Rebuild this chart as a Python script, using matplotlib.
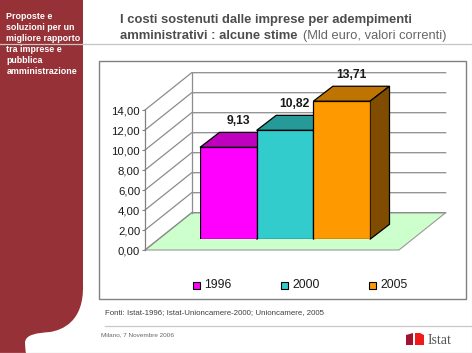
import matplotlib
matplotlib.use("Agg")
import matplotlib.pyplot as plt
from matplotlib.patches import Polygon, Rectangle, PathPatch
from matplotlib.path import Path

plt.rcParams['font.family'] = ['Liberation Sans', 'DejaVu Sans']

years = ['1996', '2000', '2005']
values = [9.13, 10.82, 13.71]
value_labels = ['9,13', '10,82', '13,71']
front_colors = ['#FF00FF', '#33CCCC', '#FF9900']
top_colors = ['#BF00BF', '#269999', '#BF7300']
side_colors = ['#800080', '#1A6666', '#804D00']
y_ticks = [0, 2, 4, 6, 8, 10, 12, 14]
y_tick_labels = ['0,00', '2,00', '4,00', '6,00', '8,00', '10,00', '12,00', '14,00']
sidebar_lines = ['Proposte e', 'soluzioni per un', 'migliore rapporto', 'tra imprese e',
                 'pubblica', 'amministrazione']

W, H = 472, 353
fig = plt.figure(figsize=(W / 100, H / 100), dpi=100, facecolor='white')

def axes_px(x0, y0, x1, y1):
    """axes from pixel box, y measured from the top of the image"""
    return fig.add_axes([x0 / W, 1 - y1 / H, (x1 - x0) / W, (y1 - y0) / H])

# page layer in pixel coordinates
bg = axes_px(0, 0, W, H)
bg.set_xlim(0, W)
bg.set_ylim(H, 0)
bg.axis('off')

verts = [(0, 0), (83, 0), (83, 285),
         (84, 322), (62, 330), (50, 332),
         (38, 333), (25, 334), (25, 343),
         (25, 348), (26, 353), (26, 353),
         (0, 353), (0, 0)]
codes = [Path.MOVETO, Path.LINETO, Path.LINETO,
         Path.CURVE4, Path.CURVE4, Path.CURVE4,
         Path.CURVE4, Path.CURVE4, Path.CURVE4,
         Path.CURVE4, Path.CURVE4, Path.CURVE4,
         Path.LINETO, Path.CLOSEPOLY]
bg.add_patch(PathPatch(Path(verts, codes), fc='#963237', ec='none', zorder=1))
bg.plot([0, W], [43.5, 43.5], color='#C4C4C4', lw=0.9, zorder=2)
bg.plot([105, W], [325.5, 325.5], color='#C8C8C8', lw=0.9, zorder=2)
bg.plot([0, W], [352.5, 352.5], color='#C8C8C8', lw=0.9, zorder=2)
bg.plot([471.5, 471.5], [0, H], color='#D0D0D0', lw=0.8, zorder=2)
bg.add_patch(Rectangle((99, 60.5), 366.5, 238, fc='white', ec='#808080', lw=1.0, zorder=2))

for i, line in enumerate(sidebar_lines):
    bg.text(6.5, 16.5 + i * 10.95, line, color='white', fontsize=6.4, fontweight='bold',
            va='center', ha='left', zorder=3)

bg.text(120.5, 20.5, 'I costi sostenuti dalle imprese per adempimenti', color='#4D4D4D',
        fontsize=9.4, fontweight='bold', va='center', zorder=3)
bg.text(120.5, 36, 'amministrativi : alcune stime', color='#4D4D4D',
        fontsize=9.4, fontweight='bold', va='center', zorder=3)
bg.text(303, 36, '(Mld euro, valori correnti)', color='#666666',
        fontsize=9.3, va='center', zorder=3)
bg.text(105, 312.5, 'Fonti: Istat-1996; Istat-Unioncamere-2000; Unioncamere, 2005', color='#404040',
        fontsize=5.65, va='center', zorder=3)
bg.text(101, 335, 'Milano, 7 Novembre 2006', color='#666666', fontsize=4.6, va='center', zorder=3)

# logo
bg.add_patch(Polygon([(406, 335), (413, 333), (413, 345), (406, 345)], fc='#A3122E', ec='none', zorder=3))
bg.add_patch(Polygon([(415, 333), (420, 333), (424, 335), (424, 345), (415, 345)], fc='#F01A1A', ec='none', zorder=3))
bg.text(427.5, 340.5, 'Istat', family='Liberation Serif', color='#555555', fontsize=10,
        va='center', ha='left', zorder=3)

# axis and walls: x in pixels, y in chart values
ax = axes_px(145, 110, 399, 250)
ax.set_xlim(145, 399)
ax.set_ylim(0, 14)
ax.patch.set_alpha(0)
for s in ['top', 'right', 'bottom']:
    ax.spines[s].set_visible(False)
ax.spines['left'].set_color('#808080')
ax.spines['left'].set_linewidth(0.9)
ax.set_xticks([])
ax.set_yticks(y_ticks)
ax.set_yticklabels(y_tick_labels, fontsize=8.2, color='#1A1A1A')
ax.tick_params(axis='y', length=2.5, width=0.8, color='#808080', pad=1)

depth_x, depth_y = 46.7, 37.3 / 10.0
ax.add_patch(Polygon([(145, 0), (399, 0), (399 + depth_x, depth_y), (145 + depth_x, depth_y)],
                     fc='#CCFFCC', ec='#999999', lw=0.8, clip_on=False, zorder=1))
for v in y_ticks:
    ax.plot([145, 145 + depth_x, 399 + depth_x],
            [v, v + depth_y, v + depth_y], color='#8C8C8C', lw=0.9, clip_on=False, zorder=1)
ax.plot([145 + depth_x] * 2, [depth_y, 14 + depth_y], color='#8C8C8C', lw=0.9, clip_on=False, zorder=1)

# bars: front plane
bx = axes_px(200, 239.3 - 14 * 10.07, 370, 239.3)
bx.set_xlim(-0.5, 2.5)
bx.set_ylim(0, 14)
bx.axis('off')
xs = list(range(len(values)))
bar_dx, bar_dy = 19.5 / (170 / 3), 15 / 10.07
bars = bx.bar(xs, values, width=1.0, color=front_colors, edgecolor='black', linewidth=0.9, zorder=5)
for bar, v, tc, sc, lab in zip(bars, values, top_colors, side_colors, value_labels):
    l, r = bar.get_x(), bar.get_x() + bar.get_width()
    bx.add_patch(Polygon([(l, v), (r, v), (r + bar_dx, v + bar_dy), (l + bar_dx, v + bar_dy)],
                         fc=tc, ec='black', lw=0.9, clip_on=False, zorder=3))
    bx.add_patch(Polygon([(r, 0), (r, v), (r + bar_dx, v + bar_dy), (r + bar_dx, bar_dy)],
                         fc=sc, ec='black', lw=0.9, clip_on=False, zorder=3))
    bx.text((l + r) / 2 + bar_dx * 0.5, v + bar_dy + 0.5, lab, fontsize=8.7, fontweight='bold',
            color='#1A1A1A', ha='center', va='bottom', clip_on=False, zorder=6)

# legend
for x0, name, c in zip([193, 281, 369], years, front_colors):
    bg.add_patch(Rectangle((x0, 282), 7, 7, fc=c, ec='black', lw=0.8, zorder=3))
    bg.text(x0 + 11, 284.5, name, fontsize=8.8, color='#1A1A1A', va='center', zorder=3)

fig.savefig('out.png', dpi=100)
